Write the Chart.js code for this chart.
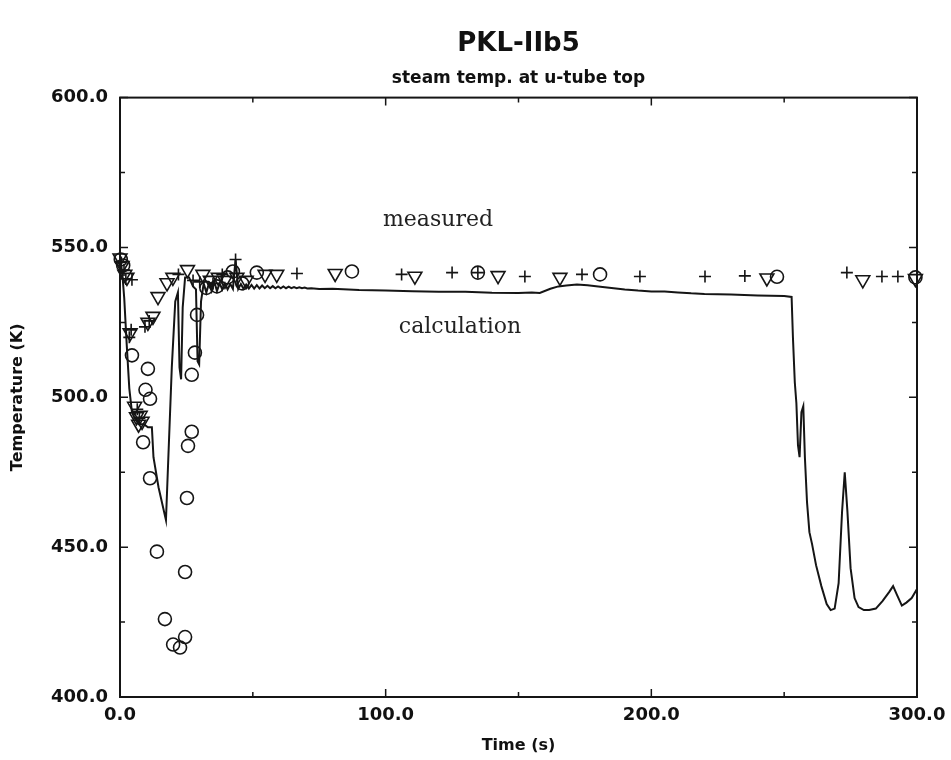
<!DOCTYPE html>
<html>
<head>
<meta charset="utf-8">
<title>PKL-IIb5</title>
<script src="https://cdn.jsdelivr.net/npm/chart.js@4.4.1/dist/chart.umd.min.js"></script>
<style>
  body { margin: 0; background: #ffffff; }
  canvas { display: block; }
</style>
</head>
<body>
<canvas id="pkl_chart" width="951" height="760"></canvas>
<script>
// calculation (solid line)
var calcTime = [0, 0.8, 1.6, 2.5, 3.5, 4.5, 5.5, 7, 9, 10.5, 12, 12.6, 14.5, 17.3, 18.2, 19.5, 20.8, 21.8, 22.4, 23, 23.6, 24.5, 26, 27.5, 28.6, 29.2, 29.8, 30.5, 31.5,
  32.5, 33.5, 34.5, 35.5, 36.5, 37.5, 38.5, 39.5, 40.5, 41.5, 42.5, 43.5, 44.5, 45.5, 46.5, 47.5, 48.5, 49.5, 50.5, 51.5, 52.5, 53.5, 54.5, 55.5,
  56.5, 57.5, 58.5, 59.5, 60.5, 61.5, 62.5, 63.5, 64.5, 65.5, 66.5, 67.5, 68.5, 69.5, 70.5, 72, 75, 80, 90, 100, 110, 120, 130, 140, 150, 155,
  158, 162, 165, 168, 172, 176, 180, 185, 190, 195, 200, 205, 210, 215, 220, 230, 240, 250, 252.8, 253.3, 254, 254.6, 255.2, 255.8, 256.5, 257.2,
  257.8, 258.6, 259.5, 260.5, 262, 264, 266, 267.5, 269, 270.5, 271.8, 272.8, 273.8, 275, 276.5, 278, 280, 282, 284.5, 287, 289.5, 291, 292.5,
  294.3, 296, 298, 300];
var calcTemp = [546, 542, 533, 518, 503, 495, 493, 491, 491, 490, 490, 480, 470, 459, 480, 510, 532, 535, 510, 506, 530, 540, 540, 537, 536, 512, 511, 532, 538,
  535, 538, 535.5, 538.5, 535.5, 538, 536, 538, 536, 537.8, 536.2, 546, 536.2, 537.8, 536.2, 537.6, 536.3, 537.5, 536.3, 537.4, 536.3, 537.3, 536.4, 537.2,
  536.4, 537.1, 536.4, 537, 536.4, 537, 536.4, 536.9, 536.4, 536.8, 536.4, 536.7, 536.4, 536.6, 536.3, 536.4, 536.1, 536.2, 535.8, 535.6, 535.4, 535.2, 535.2, 534.9, 534.8, 535,
  534.8, 536.2, 537, 537.3, 537.6, 537.4, 537, 536.5, 536, 535.6, 535.3, 535.3, 535, 534.7, 534.5, 534.3, 534, 533.8, 533.5, 520, 505, 498, 484, 480, 495, 497,
  480, 465, 455, 451, 444, 437, 431, 429, 429.5, 438, 462, 475, 462, 443, 433, 430, 429, 429, 429.5, 432, 435, 437, 434,
  430.5, 431.5, 433, 436];

// measured: open circles
var circleTime = [0.3, 1.2, 4.5, 10.5, 9.6, 11.3, 8.7, 11.3, 13.9, 16.9, 20, 22.6, 24.5, 24.5, 25.2, 25.6, 27, 27, 28.2, 29, 32.5, 36.5, 40.5, 42.5, 46, 51.5, 87.3, 134.7, 180.7, 247.3, 299.4];
var circleTemp = [546, 544, 514, 509.5, 502.5, 499.5, 485, 473, 448.5, 426, 417.5, 416.5, 420, 441.7, 466.4, 483.8, 488.5, 507.5, 514.9, 527.5, 536.5, 537, 540, 542, 538, 541.6, 542, 541.6, 541, 540.2, 540];

// measured: open down triangles
var triTime = [0, 0.8, 1.8, 2.6, 3.8, 5.5, 6.2, 7, 7.6, 8.3, 10.5, 12.4, 14.3, 17.7, 19.9, 25.4, 31.2, 34, 37, 39.5, 44, 47.5, 54.6, 59, 81, 111, 142.3, 165.6, 243.5, 279.6, 299.4];
var triTemp = [546.5, 544, 541, 540, 521.5, 497, 493.5, 491, 494, 492, 525, 527, 533.6, 538.2, 540, 542.6, 541, 539, 540, 539, 540, 539, 541, 541, 541.3, 540.4, 540.6, 540, 539.8, 539.2, 539.6];

// measured: plus signs
var plusTime = [0.5, 1.5, 2.2, 4.5, 3.5, 4.2, 6.5, 7.3, 9.4, 11, 22, 27.5, 30, 35, 38.5, 43.5, 66.6, 106, 125, 134.7, 152.4, 173.9, 195.7, 220.2, 235.2, 273.6, 286.8, 292.8];
var plusTemp = [545, 542.5, 539.5, 539.2, 520, 522.5, 496, 493, 523.5, 525.5, 541, 539, 538.5, 538, 541, 546, 541.3, 541, 541.6, 541.6, 540.3, 541, 540.3, 540.3, 540.5, 541.6, 540.3, 540.3];

var xTicks = [0, 50, 100, 150, 200, 250, 300];
var yTicks = [400, 425, 450, 475, 500, 525, 550, 575, 600];

function toPoints(xs, ys) {
  var pts = [];
  for (var i = 0; i < xs.length; i++) {
    pts.push({x: xs[i], y: ys[i]});
  }
  return pts;
}

var ink = '#151515';

// frame, inward tick marks and the two text labels
var framePlugin = {
  id: 'frame',
  afterDatasetsDraw: function(chart) {
    var c = chart.ctx;
    var a = chart.chartArea;
    var xs = chart.scales.x, ys = chart.scales.y;
    c.save();
    c.strokeStyle = ink;
    c.lineWidth = 2;
    c.strokeRect(a.left, a.top, a.right - a.left, a.bottom - a.top);
    c.lineWidth = 1.5;
    c.beginPath();
    xTicks.forEach(function(v) {
      var px = xs.getPixelForValue(v);
      var len = v % 100 === 0 ? 8 : 5;
      c.moveTo(px, a.bottom); c.lineTo(px, a.bottom - len);
      c.moveTo(px, a.top); c.lineTo(px, a.top + len);
    });
    yTicks.forEach(function(v) {
      var py = ys.getPixelForValue(v);
      var len = v % 50 === 0 ? 8 : 5;
      c.moveTo(a.left, py); c.lineTo(a.left + len, py);
      c.moveTo(a.right, py); c.lineTo(a.right - len, py);
    });
    c.stroke();

    c.fillStyle = '#222';
    c.font = '22px "DejaVu Serif"';
    c.textAlign = 'center';
    c.textBaseline = 'middle';
    c.fillText('measured', xs.getPixelForValue(119.7), ys.getPixelForValue(558.9));
    c.fillText('calculation', xs.getPixelForValue(128), ys.getPixelForValue(523.2));
    c.restore();
  }
};

var ctx = document.getElementById('pkl_chart');
var myChart = new Chart(ctx, {
  type: 'scatter',
  data: {
    datasets: [{
      label: 'calculation',
      type: 'line',
      data: toPoints(calcTime, calcTemp),
      borderColor: ink,
      borderWidth: 2,
      pointRadius: 0,
      tension: 0,
      fill: false
    }, {
      label: 'measured (circle)',
      data: toPoints(circleTime, circleTemp),
      pointStyle: 'circle',
      pointRadius: 6.5,
      borderColor: ink,
      borderWidth: 1.6,
      backgroundColor: 'rgba(0,0,0,0)',
      clip: false
    }, {
      label: 'measured (triangle)',
      data: toPoints(triTime, triTemp),
      pointStyle: 'triangle',
      rotation: 180,
      pointRadius: 8,
      borderColor: ink,
      borderWidth: 1.6,
      backgroundColor: 'rgba(0,0,0,0)',
      clip: false
    }, {
      label: 'measured (plus)',
      data: toPoints(plusTime, plusTemp),
      pointStyle: 'cross',
      pointRadius: 6,
      borderColor: ink,
      borderWidth: 1.6,
      clip: false
    }]
  },
  options: {
    responsive: false,
    animation: false,
    devicePixelRatio: 1,
    layout: { padding: { left: 0, right: 34, top: 0, bottom: 0 } },
    plugins: {
      legend: { display: false },
      tooltip: { enabled: false },
      title: {
        display: true,
        fullSize: false,
        text: 'PKL-IIb5',
        color: '#111',
        font: { family: 'DejaVu Sans', size: 26, weight: 'bold' },
        padding: { top: 29, bottom: 4 }
      },
      subtitle: {
        display: true,
        fullSize: false,
        text: 'steam temp. at u-tube top',
        color: '#111',
        font: { family: 'DejaVu Sans', size: 17, weight: 'bold' },
        padding: { top: 4, bottom: 9 }
      }
    },
    scales: {
      x: {
        type: 'linear',
        min: 0,
        max: 300,
        afterFit: function(scale) {
          scale.height = 63;
          scale.paddingLeft = 0;
          scale.paddingRight = 0;
        },
        grid: { display: false, drawTicks: false },
        border: { display: false },
        ticks: {
          stepSize: 50,
          autoSkip: false,
          maxRotation: 0,
          padding: 8,
          color: '#111',
          font: { family: 'DejaVu Sans', size: 18, weight: 'bold' },
          callback: function(v) { return v % 100 === 0 ? v.toFixed(1) : ''; }
        },
        title: {
          display: true,
          text: 'Time (s)',
          color: '#111',
          font: { family: 'DejaVu Sans', size: 16, weight: 'bold' },
          padding: { top: 0, bottom: 5 }
        }
      },
      y: {
        type: 'linear',
        min: 400,
        max: 600,
        afterFit: function(scale) { scale.width = 120; },
        grid: { display: false, drawTicks: false },
        border: { display: false },
        ticks: {
          stepSize: 25,
          autoSkip: false,
          padding: 12,
          color: '#111',
          font: { family: 'DejaVu Sans', size: 18, weight: 'bold' },
          callback: function(v) { return v % 50 === 0 ? v.toFixed(1) : ''; }
        },
        title: {
          display: true,
          text: 'Temperature (K)',
          color: '#111',
          font: { family: 'DejaVu Sans', size: 16, weight: 'bold' },
          padding: { top: 8, bottom: 0 }
        }
      }
    }
  },
  plugins: [framePlugin]
});
</script>
</body>
</html>
